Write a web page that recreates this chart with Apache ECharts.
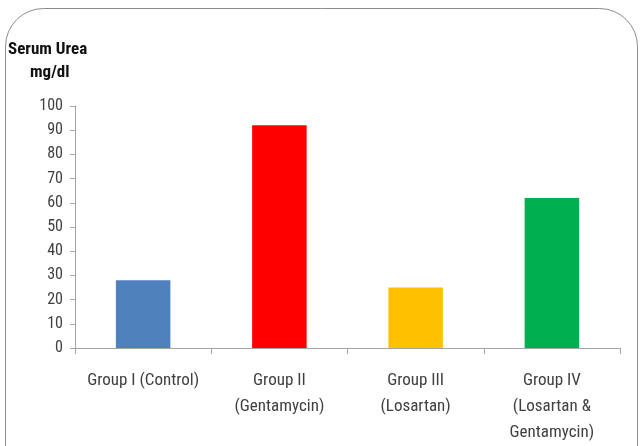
<!DOCTYPE html>
<html><head><meta charset="utf-8">
<script src="https://cdn.jsdelivr.net/npm/echarts@6/dist/echarts.min.js"></script>
<style>html,body{margin:0;padding:0;background:#fff}#c{width:641px;height:446px}</style>
</head><body><div id="c"></div>
<script>
const categories = ['Group I (Control)', 'Group II\n(Gentamycin)', 'Group III\n(Losartan)', 'Group IV\n(Losartan &\nGentamycin)'];
const values = [28, 92, 25, 62];
const barColors = ['#4F81BD', '#FF0000', '#FFC000', '#00B050'];
const yTicks = {min: 0, max: 100, interval: 10};
const axisTitle = ['Serum Urea', 'mg/dl'];

const FONT = "'Liberation Sans Narrow', 'Arial Narrow', 'Roboto Condensed', sans-serif";
const chart = echarts.init(document.getElementById('c'), null, {renderer: 'canvas'});
chart.setOption({
  animation: false,
  backgroundColor: '#fff',
  grid: {left: 75, right: 21, top: 106, bottom: 93, containLabel: false},
  graphic: [
    {type: 'rect', shape: {x: 5.5, y: 8.5, width: 632, height: 600, r: 38}, style: {fill: 'none', stroke: '#8c8c8c', lineWidth: 1}, z: -1},
    {type: 'text', left: 8, top: 41, style: {text: axisTitle[0], font: 'bold 17px ' + FONT, fill: '#111'}},
    {type: 'text', left: 30, top: 64, style: {text: axisTitle[1], font: 'bold 17px ' + FONT, fill: '#111'}}
  ],
  xAxis: {
    type: 'category', data: categories,
    axisLine: {lineStyle: {color: '#a6a6a6', width: 1}},
    axisTick: {show: true, alignWithLabel: false, length: 6, lineStyle: {color: '#a6a6a6'}},
    axisLabel: {color: '#404040', fontSize: 17, fontFamily: FONT, lineHeight: 26, margin: 20, interval: 0}
  },
  yAxis: {
    type: 'value', min: yTicks.min, max: yTicks.max, interval: yTicks.interval,
    axisLine: {show: true, lineStyle: {color: '#a6a6a6'}},
    axisTick: {show: true, length: 5, lineStyle: {color: '#a6a6a6'}},
    splitLine: {show: false},
    axisLabel: {color: '#404040', fontSize: 16, fontFamily: FONT, margin: 12}
  },
  series: [{
    type: 'bar', barWidth: '40%',
    data: values.map((v, i) => ({value: v, itemStyle: {color: barColors[i]}}))
  }]
});
</script></body></html>
